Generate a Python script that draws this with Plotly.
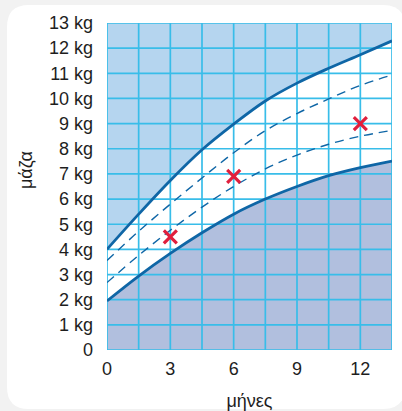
import numpy as np
import plotly.graph_objects as go

# Infant weight chart: age in months vs. body mass in kg
months = [0, 1.5, 3, 4.5, 6, 7.5, 9, 10.5, 12, 13.5]
upper_limit = [4.0, 5.4, 6.74, 7.96, 8.98, 9.9, 10.61, 11.2, 11.74, 12.29]
lower_limit = [1.95, 2.94, 3.84, 4.66, 5.4, 6.0, 6.5, 6.93, 7.25, 7.51]
upper_guide = [3.56, 4.72, 5.8, 6.84, 7.84, 8.72, 9.4, 9.98, 10.52, 10.93]
lower_guide = [2.68, 3.76, 4.76, 5.68, 6.5, 7.2, 7.75, 8.18, 8.5, 8.73]

child_months = [3, 6, 12]
child_mass = [4.5, 6.9, 9.0]

x_tick_vals = [0, 3, 6, 9, 12]
x_tick_text = ["0", "3", "6", "9", "12"]
y_tick_vals = list(range(0, 14))
y_tick_text = ["0"] + [f"{v} kg" for v in range(1, 14)]

X_MAX, Y_MAX = 13.5, 13
X_STEP, Y_STEP = 1.5, 1

W, H = 402, 411
ML, MR, MT, MB = 107, 10, 23, 61
PW, PH = W - ML - MR, H - MT - MB

TOP_FILL = "#b5d5ef"
BOTTOM_FILL = "#b1bfde"
GRID = "#38bde9"
CURVE = "#0f66a6"
CROSS = "#e01f3d"
TEXT = "#1e1e1e"
FONT = "Liberation Sans, Arial, sans-serif"

fig = go.Figure()

# shaded band above the upper limit
fig.add_trace(go.Scatter(x=months, y=[Y_MAX] * len(months), mode="lines",
                         line=dict(width=0), hoverinfo="skip", showlegend=False))
fig.add_trace(go.Scatter(x=months, y=upper_limit, mode="lines", fill="tonexty",
                         fillcolor=TOP_FILL, line=dict(width=0, shape="spline"),
                         hoverinfo="skip", showlegend=False))
# shaded band below the lower limit
fig.add_trace(go.Scatter(x=months, y=[0] * len(months), mode="lines",
                         line=dict(width=0), hoverinfo="skip", showlegend=False))
fig.add_trace(go.Scatter(x=months, y=lower_limit, mode="lines", fill="tonexty",
                         fillcolor=BOTTOM_FILL, line=dict(width=0, shape="spline"),
                         hoverinfo="skip", showlegend=False))

# grid drawn over the shaded bands
gx, gy = [], []
for xv in np.arange(0, X_MAX + 1e-9, X_STEP):
    gx += [xv, xv, None]
    gy += [0, Y_MAX, None]
for yv in np.arange(0, Y_MAX + 1e-9, Y_STEP):
    gx += [0, X_MAX, None]
    gy += [yv, yv, None]
fig.add_trace(go.Scatter(x=gx, y=gy, mode="lines", line=dict(color=GRID, width=1.7),
                         hoverinfo="skip", showlegend=False, cliponaxis=False))

# reference curves
for ys in (upper_guide, lower_guide):
    fig.add_trace(go.Scatter(x=months, y=ys, mode="lines",
                             line=dict(color=CURVE, width=1.4, dash="9px,6px", shape="spline"),
                             showlegend=False))
for ys in (upper_limit, lower_limit):
    fig.add_trace(go.Scatter(x=months, y=ys, mode="lines",
                             line=dict(color=CURVE, width=2.8, shape="spline"),
                             showlegend=False))

# measured values
fig.add_trace(go.Scatter(x=child_months, y=child_mass, mode="markers",
                         marker=dict(symbol="x-thin", size=13,
                                     line=dict(color=CROSS, width=3.2)),
                         showlegend=False))


def px_to_paper(px, py):
    return (px - ML) / PW, (H - MB - py) / PH


# white rounded card behind the chart
cl, ct, cr, cb, rad = 7, 5, 405, 409, 22
pts = {
    "a": px_to_paper(cl + rad, ct), "b": px_to_paper(cr - rad, ct),
    "c": px_to_paper(cr, ct), "d": px_to_paper(cr, ct + rad),
    "e": px_to_paper(cr, cb - rad), "f": px_to_paper(cr, cb),
    "g": px_to_paper(cr - rad, cb), "h": px_to_paper(cl + rad, cb),
    "i": px_to_paper(cl, cb), "j": px_to_paper(cl, cb - rad),
    "k": px_to_paper(cl, ct + rad), "l": px_to_paper(cl, ct),
}
p = {k: f"{v[0]:.5f},{v[1]:.5f}" for k, v in pts.items()}
card_path = (f"M{p['a']} L{p['b']} Q{p['c']} {p['d']} L{p['e']} Q{p['f']} {p['g']} "
             f"L{p['h']} Q{p['i']} {p['j']} L{p['k']} Q{p['l']} {p['a']} Z")

fig.update_layout(
    width=W, height=H, autosize=False,
    margin=dict(l=ML, r=MR, t=MT, b=MB, pad=0),
    paper_bgcolor="#f2f2f2", plot_bgcolor="white",
    font=dict(family=FONT, size=18, color=TEXT),
    shapes=[dict(type="path", xref="paper", yref="paper", path=card_path,
                 fillcolor="white", line=dict(width=0), layer="below")],
    xaxis=dict(range=[0, X_MAX], tickvals=x_tick_vals, ticktext=x_tick_text,
               showgrid=False, zeroline=False, showline=False, ticks="",
               ticklabelstandoff=6, fixedrange=True, automargin=False,
               title=dict(text="μήνες", standoff=17, font=dict(size=18))),
    yaxis=dict(range=[0, Y_MAX], tickvals=y_tick_vals, ticktext=y_tick_text,
               showgrid=False, zeroline=False, showline=False, ticks="",
               ticklabelstandoff=13, fixedrange=True, automargin=False),
    annotations=[dict(text="μάζα", xref="paper", yref="paper",
                      x=px_to_paper(26, 0)[0], y=px_to_paper(0, 170)[1],
                      textangle=-90, showarrow=False, xanchor="center", yanchor="middle",
                      font=dict(size=18, color=TEXT))],
)

fig.write_html("out.html")
